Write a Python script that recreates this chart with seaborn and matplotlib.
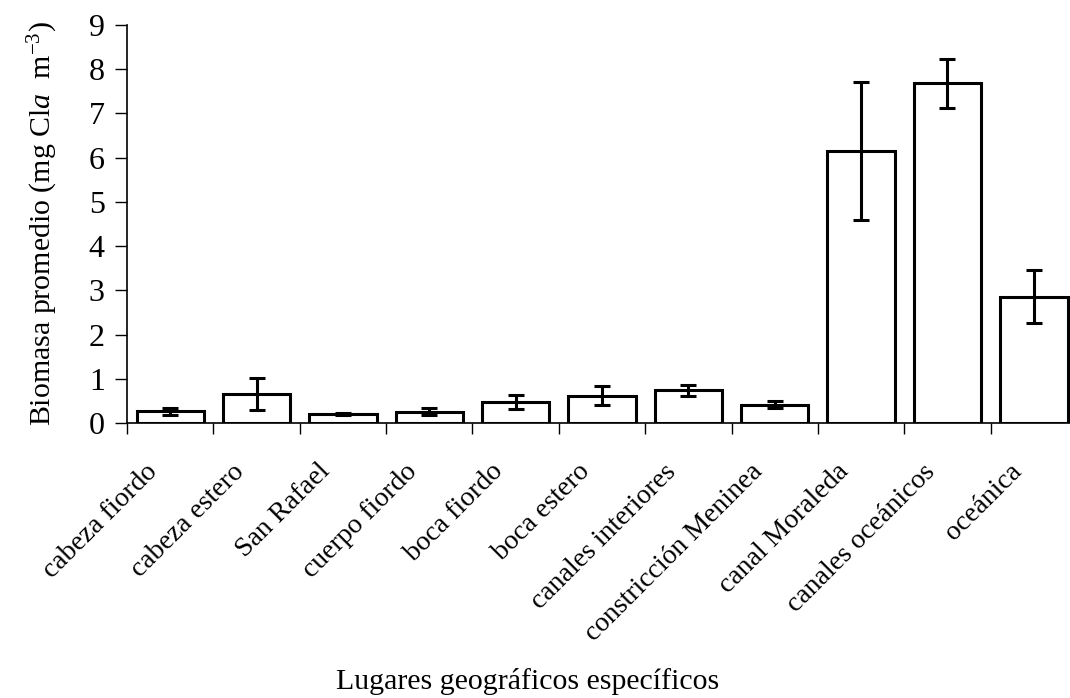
import matplotlib
matplotlib.use("Agg")
import matplotlib.pyplot as plt
import matplotlib.transforms as mtransforms
import seaborn as sns
import pandas as pd

categories = ["cabeza fiordo", "cabeza estero", "San Rafael", "cuerpo fiordo",
              "boca fiordo", "boca estero", "canales interiores",
              "constricción Meninea", "canal Moraleda", "canales oceánicos", "oceánica"]
means = [0.27, 0.65, 0.21, 0.26, 0.47, 0.62, 0.74, 0.41, 6.15, 7.68, 2.86]
errors = [0.08, 0.36, 0.02, 0.08, 0.16, 0.21, 0.12, 0.08, 1.55, 0.55, 0.60]
yticks = [0, 1, 2, 3, 4, 5, 6, 7, 8, 9]

sns.set_theme(style="white")
plt.rcParams["font.family"] = ["Liberation Serif", "DejaVu Serif"]
plt.rcParams["mathtext.fontset"] = "custom"
plt.rcParams["mathtext.rm"] = "Liberation Serif"
plt.rcParams["mathtext.it"] = "Liberation Serif:italic"
for key in ["text.color", "axes.labelcolor", "xtick.color", "ytick.color", "axes.edgecolor"]:
    plt.rcParams[key] = "black"

df = pd.DataFrame({"lugar": categories, "biomasa": means})

fig = plt.figure(figsize=(10.70, 6.98), dpi=100)
ax = fig.add_axes([127 / 1070, (698 - 423) / 698, (1077 - 127) / 1070, (423 - 25) / 698])

sns.barplot(data=df, x="lugar", y="biomasa", order=categories, color="white",
            edgecolor="black", linewidth=2.2, width=0.78, errorbar=None, ax=ax)
for p in ax.patches:
    p.set_facecolor("white")
    p.set_edgecolor("black")

ax.errorbar(x=list(range(len(categories))), y=means, yerr=errors, fmt="none",
            ecolor="black", elinewidth=2.2, capsize=5.5, capthick=2.2, zorder=5)

ax.set_xlim(-0.5, len(categories) - 0.5)
ax.set_ylim(0, 9)
ax.set_yticks(yticks)
ax.set_yticklabels([str(v) for v in yticks], fontsize=23)

for s in ["top", "right"]:
    ax.spines[s].set_visible(False)
for s in ["left", "bottom"]:
    ax.spines[s].set_color("black")
    ax.spines[s].set_linewidth(1.2)

ax.tick_params(axis="y", direction="out", length=9, width=1.0, color="black",
               labelcolor="black", left=True, pad=7)
# ticks at category boundaries
ax.set_xticks([i - 0.5 for i in range(len(categories) + 1)], minor=True)
ax.tick_params(axis="x", which="minor", direction="out", length=8, width=1.0, color="black", bottom=True)
ax.set_xticks(range(len(categories)))
ax.set_xticklabels(categories, rotation=45, ha="right", va="top",
                   rotation_mode="anchor", fontsize=20, color="black")
ax.tick_params(axis="x", which="major", length=0, pad=26)
offset = mtransforms.ScaledTranslation(-0.25, 0, fig.dpi_scale_trans)
for lbl in ax.get_xticklabels():
    lbl.set_transform(lbl.get_transform() + offset)

ax.set_xlabel("Lugares geográficos específicos", fontsize=21.5, color="black")
ax.xaxis.set_label_coords(0.422, -0.615)
ax.set_ylabel(r"Biomasa promedio (mg Cl$\mathit{a}$  m$^{-3}$)", fontsize=21.5, color="black")
ax.yaxis.set_label_coords(-0.071, 0.5)
ax.grid(False)

fig.savefig("out.png", dpi=100)
